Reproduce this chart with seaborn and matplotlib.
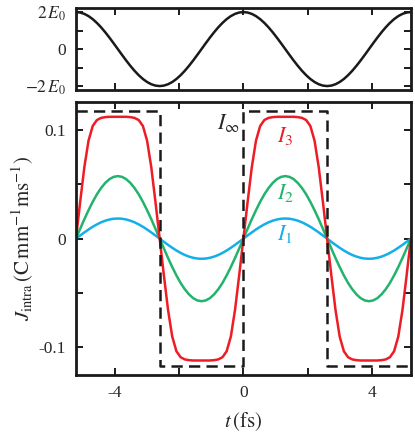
import matplotlib
matplotlib.use("Agg")
import matplotlib.pyplot as plt
import pandas as pd
import seaborn as sns

# time axis (fs), one optical period T = 5.2 fs shown twice
t_fs = [-5.2, -5.07, -4.94, -4.81, -4.68, -4.55, -4.42, -4.29, -4.16, -4.03,
        -3.9, -3.77, -3.64, -3.51, -3.38, -3.25, -3.12, -2.99, -2.86, -2.73,
        -2.6, -2.47, -2.34, -2.21, -2.08, -1.95, -1.82, -1.69, -1.56, -1.43,
        -1.3, -1.17, -1.04, -0.91, -0.78, -0.65, -0.52, -0.39, -0.26, -0.13,
        0.0, 0.13, 0.26, 0.39, 0.52, 0.65, 0.78, 0.91, 1.04, 1.17,
        1.3, 1.43, 1.56, 1.69, 1.82, 1.95, 2.08, 2.21, 2.34, 2.47,
        2.6, 2.73, 2.86, 2.99, 3.12, 3.25, 3.38, 3.51, 3.64, 3.77,
        3.9, 4.03, 4.16, 4.29, 4.42, 4.55, 4.68, 4.81, 4.94, 5.07, 5.2]

# electric field in units of E0
field = [2.0, 1.975, 1.902, 1.782, 1.618, 1.414, 1.176, 0.908, 0.618, 0.313,
         0.0, -0.313, -0.618, -0.908, -1.176, -1.414, -1.618, -1.782, -1.902, -1.975,
         -2.0, -1.975, -1.902, -1.782, -1.618, -1.414, -1.176, -0.908, -0.618, -0.313,
         0.0, 0.313, 0.618, 0.908, 1.176, 1.414, 1.618, 1.782, 1.902, 1.975,
         2.0, 1.975, 1.902, 1.782, 1.618, 1.414, 1.176, 0.908, 0.618, 0.313,
         0.0, -0.313, -0.618, -0.908, -1.176, -1.414, -1.618, -1.782, -1.902, -1.975,
         -2.0, -1.975, -1.902, -1.782, -1.618, -1.414, -1.176, -0.908, -0.618, -0.313,
         0.0, 0.313, 0.618, 0.908, 1.176, 1.414, 1.618, 1.782, 1.902, 1.975, 2.0]

# intraband current (C mm^-1 ms^-1) for three intensities
j_i1 = [0.0, 0.0029, 0.0057, 0.0084, 0.0109, 0.0131, 0.0150, 0.0165, 0.0176, 0.0183,
        0.0185, 0.0183, 0.0176, 0.0165, 0.0150, 0.0131, 0.0109, 0.0084, 0.0057, 0.0029,
        0.0, -0.0029, -0.0057, -0.0084, -0.0109, -0.0131, -0.0150, -0.0165, -0.0176, -0.0183,
        -0.0185, -0.0183, -0.0176, -0.0165, -0.0150, -0.0131, -0.0109, -0.0084, -0.0057, -0.0029,
        0.0, 0.0029, 0.0057, 0.0084, 0.0109, 0.0131, 0.0150, 0.0165, 0.0176, 0.0183,
        0.0185, 0.0183, 0.0176, 0.0165, 0.0150, 0.0131, 0.0109, 0.0084, 0.0057, 0.0029,
        0.0, -0.0029, -0.0057, -0.0084, -0.0109, -0.0131, -0.0150, -0.0165, -0.0176, -0.0183,
        -0.0185, -0.0183, -0.0176, -0.0165, -0.0150, -0.0131, -0.0109, -0.0084, -0.0057, -0.0029, 0.0]

j_i2 = [0.0, 0.0090, 0.0178, 0.0261, 0.0338, 0.0407, 0.0465, 0.0512, 0.0547, 0.0568,
        0.0575, 0.0568, 0.0547, 0.0512, 0.0465, 0.0407, 0.0338, 0.0261, 0.0178, 0.0090,
        0.0, -0.0090, -0.0178, -0.0261, -0.0338, -0.0407, -0.0465, -0.0512, -0.0547, -0.0568,
        -0.0575, -0.0568, -0.0547, -0.0512, -0.0465, -0.0407, -0.0338, -0.0261, -0.0178, -0.0090,
        0.0, 0.0090, 0.0178, 0.0261, 0.0338, 0.0407, 0.0465, 0.0512, 0.0547, 0.0568,
        0.0575, 0.0568, 0.0547, 0.0512, 0.0465, 0.0407, 0.0338, 0.0261, 0.0178, 0.0090,
        0.0, -0.0090, -0.0178, -0.0261, -0.0338, -0.0407, -0.0465, -0.0512, -0.0547, -0.0568,
        -0.0575, -0.0568, -0.0547, -0.0512, -0.0465, -0.0407, -0.0338, -0.0261, -0.0178, -0.0090, 0.0]

j_i3 = [0.0, 0.0335, 0.0655, 0.0900, 0.1035, 0.1090, 0.1110, 0.1117, 0.1120, 0.1120,
        0.1120, 0.1120, 0.1120, 0.1117, 0.1110, 0.1090, 0.1035, 0.0900, 0.0655, 0.0335,
        0.0, -0.0335, -0.0655, -0.0900, -0.1035, -0.1090, -0.1110, -0.1117, -0.1120, -0.1120,
        -0.1120, -0.1120, -0.1120, -0.1117, -0.1110, -0.1090, -0.1035, -0.0900, -0.0655, -0.0335,
        0.0, 0.0335, 0.0655, 0.0900, 0.1035, 0.1090, 0.1110, 0.1117, 0.1120, 0.1120,
        0.1120, 0.1120, 0.1120, 0.1117, 0.1110, 0.1090, 0.1035, 0.0900, 0.0655, 0.0335,
        0.0, -0.0335, -0.0655, -0.0900, -0.1035, -0.1090, -0.1110, -0.1117, -0.1120, -0.1120,
        -0.1120, -0.1120, -0.1120, -0.1117, -0.1110, -0.1090, -0.1035, -0.0900, -0.0655, -0.0335, 0.0]

# square-wave limit I_inf (corner points)
t_inf = [-5.2, -2.6, -2.6, 0.0, 0.0, 2.6, 2.6, 5.2]
j_inf = [0.117, 0.117, -0.117, -0.117, 0.117, 0.117, -0.117, -0.117]

COLORS = {"I1": "#14aeea", "I2": "#22b36c", "I3": "#ee1c25"}

sns.set_style("ticks")
plt.rcParams["font.family"] = ["Liberation Serif", "DejaVu Serif"]
plt.rcParams["mathtext.fontset"] = "stix"
plt.rcParams["axes.unicode_minus"] = False

fig = plt.figure(figsize=(4.15, 4.44), dpi=100)
ax_e = fig.add_axes([0.183, 0.797, 0.807, 0.185])
ax_j = fig.add_axes([0.183, 0.155, 0.807, 0.615])

# --- top panel: driving field
sns.lineplot(x=t_fs, y=field, ax=ax_e, color="#1a1a1a", linewidth=1.8,
             estimator=None, sort=False)
ax_e.set_xlim(-5.2, 5.2)
ax_e.set_ylim(-2.22, 2.22)
ax_e.set_xticks([-4, -2, 0, 2, 4])
ax_e.set_xticklabels([])
ax_e.set_yticks([-2, -1, 0, 1, 2])
ax_e.set_yticklabels([r"$-2\,E_0$", "", "0", "", r"$2\,E_0$"])

# --- bottom panel: intraband currents
df = pd.DataFrame({
    "t": t_fs * 3,
    "J": j_i1 + j_i2 + j_i3,
    "curve": ["I1"] * len(t_fs) + ["I2"] * len(t_fs) + ["I3"] * len(t_fs),
})
sns.lineplot(data=df, x="t", y="J", hue="curve", palette=COLORS, ax=ax_j,
             linewidth=1.8, estimator=None, legend=False)
sns.lineplot(x=t_inf, y=j_inf, ax=ax_j, color="#1a1a1a", linewidth=1.8,
             linestyle=(0, (4.5, 2.5)), estimator=None, sort=False)

ax_j.set_xlim(-5.2, 5.2)
ax_j.set_ylim(-0.1255, 0.1255)
ax_j.set_xticks([-4, -2, 0, 2, 4])
ax_j.set_xticklabels(["-4", "", "0", "", "4"])
ax_j.set_yticks([-0.1, -0.05, 0, 0.05, 0.1])
ax_j.set_yticklabels(["-0.1", "", "0", "", "0.1"])
ax_j.set_xlabel(r"$t\,\left(\mathrm{fs}\right)$", fontsize=15, labelpad=7)
ax_j.set_ylabel(r"$J_{\mathrm{intra}}\,\left(\mathrm{C\,mm^{-1}ms^{-1}}\right)$",
                fontsize=15, labelpad=2)

ax_j.text(-0.12, 0.106, r"$I_\infty$", fontsize=16, ha="right", va="center")
ax_j.text(1.3, 0.094, r"$I_3$", fontsize=16, ha="center", va="center", color=COLORS["I3"])
ax_j.text(1.3, 0.042, r"$I_2$", fontsize=16, ha="center", va="center", color=COLORS["I2"])
ax_j.text(1.3, 0.004, r"$I_1$", fontsize=16, ha="center", va="center", color=COLORS["I1"])

for ax in (ax_e, ax_j):
    ax.tick_params(direction="in", top=True, right=True, length=5, width=1.4,
                   labelsize=12.5, color="#1a1a1a", pad=7)
    for sp in ax.spines.values():
        sp.set_visible(True)
        sp.set_linewidth(2.0)
        sp.set_color("#1a1a1a")

fig.savefig("out.png", dpi=100)
